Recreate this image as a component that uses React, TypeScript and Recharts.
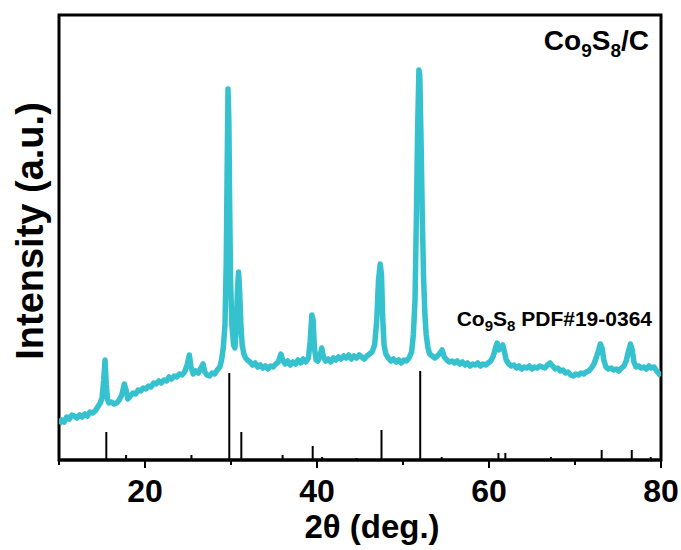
import React from 'react';
import { ComposedChart, Line, XAxis, YAxis, ReferenceLine, ReferenceArea } from 'recharts';

// XRD scan: [2θ (deg), intensity (a.u.)]
const xrdScan: [number, number][] = [
  [10.0, 36], [10.3, 40], [10.6, 38], [10.9, 43], [11.2, 41], [11.5, 45], [11.8, 44], [12.1, 42],
  [12.4, 45], [12.7, 43], [13.0, 46], [13.3, 44], [13.6, 48], [13.9, 47], [14.2, 49], [14.5, 53],
  [14.8, 57], [15.0, 62], [15.2, 80], [15.35, 100], [15.5, 75], [15.65, 60], [15.8, 57], [16.1, 58],
  [16.4, 56], [16.7, 57], [17.0, 60], [17.3, 65], [17.6, 76], [17.8, 70], [18.0, 61], [18.3, 64],
  [18.6, 67], [18.9, 66], [19.2, 70], [19.5, 69], [19.8, 72], [20.1, 71], [20.4, 74], [20.7, 73],
  [21.0, 77], [21.3, 76], [21.6, 79], [21.9, 77], [22.2, 80], [22.5, 79], [22.8, 83], [23.1, 81],
  [23.4, 84], [23.7, 83], [24.0, 86], [24.3, 85], [24.6, 88], [24.9, 95], [25.15, 105], [25.35, 93],
  [25.6, 86], [25.9, 89], [26.2, 87], [26.5, 92], [26.75, 96], [26.95, 88], [27.2, 85], [27.5, 84],
  [27.8, 87], [28.1, 86], [28.4, 90], [28.7, 93], [28.9, 100], [29.1, 112], [29.3, 135], [29.45, 200],
  [29.55, 290], [29.65, 371], [29.75, 340], [29.85, 250], [29.95, 180], [30.1, 135], [30.3, 115],
  [30.45, 112], [30.6, 130], [30.75, 170], [30.88, 188], [31.0, 170], [31.15, 135], [31.3, 115],
  [31.5, 106], [31.7, 102], [31.9, 100], [32.2, 98], [32.5, 95], [32.8, 97], [33.1, 93], [33.4, 95],
  [33.7, 92], [34.0, 94], [34.3, 91], [34.6, 94], [34.9, 93], [35.2, 96], [35.5, 98], [35.8, 106],
  [36.0, 100], [36.3, 96], [36.6, 99], [36.9, 95], [37.2, 98], [37.5, 96], [37.8, 100], [38.1, 97],
  [38.4, 101], [38.7, 98], [39.0, 102], [39.2, 118], [39.4, 145], [39.55, 140], [39.7, 112],
  [39.9, 100], [40.1, 99], [40.35, 104], [40.55, 112], [40.75, 103], [41.0, 99], [41.3, 101],
  [41.6, 98], [41.9, 102], [42.2, 100], [42.5, 103], [42.8, 101], [43.1, 104], [43.4, 102],
  [43.7, 105], [44.0, 101], [44.3, 104], [44.6, 102], [44.9, 105], [45.2, 103], [45.5, 101],
  [45.8, 104], [46.1, 106], [46.4, 108], [46.7, 115], [46.95, 140], [47.15, 180], [47.35, 196],
  [47.5, 185], [47.65, 140], [47.8, 115], [48.0, 106], [48.3, 102], [48.6, 99], [48.9, 101],
  [49.2, 98], [49.5, 100], [49.8, 97], [50.1, 100], [50.4, 99], [50.7, 102], [51.0, 108],
  [51.2, 125], [51.4, 160], [51.55, 240], [51.7, 330], [51.85, 390], [51.95, 385], [52.1, 320],
  [52.25, 240], [52.4, 180], [52.55, 145], [52.7, 125], [52.9, 112], [53.1, 106], [53.4, 104],
  [53.7, 102], [54.0, 104], [54.3, 107], [54.55, 110], [54.8, 103], [55.1, 100], [55.4, 98],
  [55.7, 99], [56.0, 97], [56.3, 99], [56.6, 96], [56.9, 98], [57.2, 95], [57.5, 97], [57.8, 94],
  [58.1, 96], [58.4, 95], [58.7, 97], [59.0, 94], [59.3, 96], [59.6, 95], [59.9, 97], [60.2, 99],
  [60.5, 104], [60.75, 112], [60.95, 117], [61.15, 110], [61.35, 112], [61.6, 115], [61.8, 108],
  [62.0, 100], [62.3, 96], [62.6, 94], [62.9, 95], [63.2, 92], [63.5, 94], [63.8, 91], [64.1, 93],
  [64.4, 92], [64.7, 94], [65.0, 91], [65.3, 93], [65.6, 92], [65.9, 94], [66.2, 93], [66.5, 92],
  [66.8, 95], [67.1, 97], [67.4, 94], [67.7, 91], [68.0, 92], [68.3, 89], [68.6, 90], [68.9, 87],
  [69.2, 88], [69.5, 85], [69.8, 84], [70.1, 86], [70.4, 85], [70.7, 87], [71.0, 86], [71.3, 88],
  [71.6, 89], [71.9, 92], [72.2, 96], [72.5, 103], [72.75, 110], [72.95, 116], [73.15, 112],
  [73.35, 100], [73.6, 93], [73.9, 91], [74.2, 92], [74.5, 90], [74.8, 91], [75.1, 89], [75.4, 92],
  [75.7, 94], [75.95, 99], [76.2, 108], [76.45, 116], [76.65, 110], [76.85, 98], [77.1, 93],
  [77.4, 94], [77.7, 92], [78.0, 93], [78.3, 91], [78.6, 94], [78.9, 92], [79.2, 93], [79.5, 89],
  [79.8, 86], [80.0, 84],
];

// Co9S8 PDF#19-0364 reference pattern
const pdfAngles = [15.5, 17.8, 25.4, 29.8, 31.2, 36.0, 39.5, 40.6, 44.6, 47.5, 52.0, 54.5, 61.1, 61.9, 67.2, 73.1, 76.6, 78.8];
const pdfHeights = [28, 5, 5, 87, 28, 5, 14, 3, 2, 30, 89, 3, 7, 7, 3, 10, 10, 3];

const majorTicks = [20, 40, 60, 80];
const allTicks = [10, 20, 30, 40, 50, 60, 70, 80];

const FONT = '"Liberation Sans", Arial, Helvetica, sans-serif';

const chartData = xrdScan.map(([t, v]) => ({ t, v }));

const AxisTick = (props: any) => {
  const { x, y, payload } = props;
  const major = majorTicks.includes(payload.value);
  return (
    <g>
      <line x1={x} x2={x} y1={y} y2={y + (major ? 8 : 5)} stroke="#000" strokeWidth={2} />
      {major && (
        <text x={x} y={y + 42} textAnchor="middle" fontFamily={FONT} fontWeight="bold" fontSize={32} fill="#000">
          {payload.value}
        </text>
      )}
    </g>
  );
};

export default function App() {
  return (
    <div style={{ position: 'relative', width: 681, height: 550, background: '#fff' }}>
      <style>{'body{margin:0;}'}</style>
      <ComposedChart
        width={681}
        height={550}
        data={chartData}
        margin={{ top: 15, right: 20, left: 59, bottom: 0 }}
      >
        <XAxis
          xAxisId="x"
          dataKey="t"
          type="number"
          domain={[10, 80]}
          ticks={allTicks}
          interval={0}
          height={90}
          tickSize={0}
          tickMargin={0}
          tick={<AxisTick />}
          axisLine={{ stroke: '#000', strokeWidth: 3 }}
          allowDataOverflow
        />
        <YAxis
          yAxisId="y"
          type="number"
          domain={[0, 445]}
          width={0}
          tick={false}
          tickLine={false}
          axisLine={{ stroke: '#000', strokeWidth: 3 }}
          allowDataOverflow
        />
        <ReferenceArea
          xAxisId="x"
          yAxisId="y"
          x1={10}
          x2={80}
          y1={0}
          y2={445}
          fill="none"
          fillOpacity={0}
          stroke="#000"
          strokeWidth={3}
          ifOverflow="visible"
        />
        {pdfAngles.map((a, i) => (
          <ReferenceLine
            key={`pdf-${i}`}
            xAxisId="x"
            yAxisId="y"
            segment={[{ x: a, y: 0 }, { x: a, y: pdfHeights[i] }]}
            stroke="#000"
            strokeWidth={2}
            ifOverflow="visible"
          />
        ))}
        <Line
          xAxisId="x"
          yAxisId="y"
          type="linear"
          dataKey="v"
          stroke="#35C1CD"
          strokeWidth={5.5}
          strokeLinejoin="round"
          dot={false}
          activeDot={false}
          isAnimationActive={false}
        />
      </ComposedChart>
      <svg
        width={681}
        height={550}
        style={{ position: 'absolute', left: 0, top: 0, pointerEvents: 'none' }}
      >
        <text
          x={43}
          y={231}
          transform="rotate(-90 43 231)"
          textAnchor="middle"
          fontFamily={FONT}
          fontWeight="bold"
          fontSize={38}
          fill="#000"
        >
          Intensity (a.u.)
        </text>
        <text x={372} y={538} textAnchor="middle" fontFamily={FONT} fontWeight="bold" fontSize={33} fill="#000">
          2θ (deg.)
        </text>
        <text x={649} y={50} textAnchor="end" fontFamily={FONT} fontWeight="bold" fontSize={28} fill="#000">
          Co<tspan fontSize={19} dy={7}>9</tspan>
          <tspan dy={-7}>S</tspan>
          <tspan fontSize={19} dy={7}>8</tspan>
          <tspan dy={-7}>/C</tspan>
        </text>
        <text x={652} y={326} textAnchor="end" fontFamily={FONT} fontWeight="bold" fontSize={21} fill="#000">
          Co<tspan fontSize={15} dy={5}>9</tspan>
          <tspan dy={-5}>S</tspan>
          <tspan fontSize={15} dy={5}>8</tspan>
          <tspan dy={-5}> PDF#19-0364</tspan>
        </text>
      </svg>
    </div>
  );
}
